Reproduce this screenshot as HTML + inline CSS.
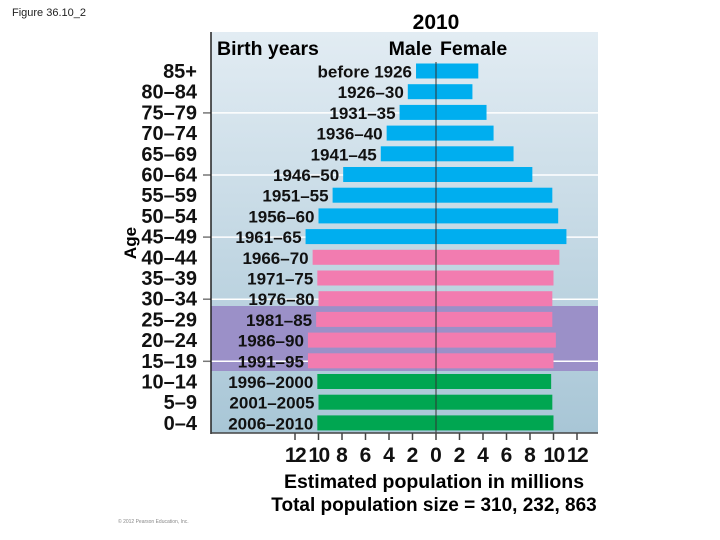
<!DOCTYPE html>
<html><head><meta charset="utf-8"><style>
html,body{margin:0;padding:0;background:#fff;}
svg{display:block;font-family:"Liberation Sans",Arial,sans-serif;}
</style></head><body>
<svg id="chart" width="720" height="540" viewBox="0 0 720 540">
<defs>
<linearGradient id="bg" x1="0" y1="0" x2="0" y2="1">
<stop offset="0" stop-color="#e2ecf3"/><stop offset="1" stop-color="#a8c6d6"/>
</linearGradient>
</defs>
<text x="12" y="16" font-size="11" fill="#222">Figure 36.10_2</text>
<rect x="211" y="32" width="387" height="401" fill="url(#bg)"/>
<rect x="211" y="306" width="387" height="65" fill="#9b90c8"/>
<g id="grid"></g>
<g id="bars"></g>
<g id="labels"></g>
<line x1="211" y1="32" x2="211" y2="434" stroke="#222" stroke-width="1.5"/>
<line x1="211" y1="433" x2="598" y2="433" stroke="#444" stroke-width="1.5"/>
<text x="436" y="29" font-size="21" font-weight="bold" text-anchor="middle">2010</text>
<text x="217" y="55" font-size="19.5" font-weight="bold">Birth years</text>
<text x="432" y="55" font-size="19.5" font-weight="bold" text-anchor="end">Male</text>
<text x="440" y="55" font-size="19.5" font-weight="bold">Female</text>
<text transform="translate(136,243) rotate(-90)" font-size="17" font-weight="bold" text-anchor="middle">Age</text>
<text x="434" y="488" font-size="19.5" font-weight="bold" text-anchor="middle">Estimated population in millions</text>
<text x="434" y="511" font-size="19" font-weight="bold" text-anchor="middle">Total population size = 310, 232, 863</text>
<text x="118" y="523" font-size="5" fill="#888">© 2012 Pearson Education, Inc.</text>
</svg>
<script>
const ages = ["85+","80–84","75–79","70–74","65–69","60–64","55–59","50–54","45–49","40–44","35–39","30–34","25–29","20–24","15–19","10–14","5–9","0–4"];
const birthYears = ["before 1926","1926–30","1931–35","1936–40","1941–45","1946–50","1951–55","1956–60","1961–65","1966–70","1971–75","1976–80","1981–85","1986–90","1991–95","1996–2000","2001–2005","2006–2010"];
const male = [1.7,2.4,3.1,4.2,4.7,7.9,8.8,10.0,11.1,10.5,10.1,10.0,10.2,10.9,10.9,10.1,10.0,10.1];
const female = [3.6,3.1,4.3,4.9,6.6,8.2,9.9,10.4,11.1,10.5,10.0,9.9,9.9,10.2,10.0,9.8,9.9,10.0];
const generation = ["b","b","b","b","b","b","b","b","b","p","p","p","p","p","p","g","g","g"];
const xTicks = [12,10,8,6,4,2,0,2,4,6,8,10,12];
const xTickSigns = [-1,-1,-1,-1,-1,-1,0,1,1,1,1,1,1];

const NS="http://www.w3.org/2000/svg";
const x0=436, pxPer=11.75;
function xScale(v){return x0+v*pxPer;}
function yRow(i){return 71+i*20.7;}
const colors={b:"#00aeef",p:"#f27cb0",g:"#00a651"};
function mk(tag,attrs,parent){const e=document.createElementNS(NS,tag);for(const k in attrs)e.setAttribute(k,attrs[k]);parent.appendChild(e);return e;}
const grid=document.getElementById('grid'),bars=document.getElementById('bars'),labels=document.getElementById('labels'),svg=document.getElementById('chart');

[2,5,8,11,14].forEach(i=>{
  const y=yRow(i)+0.5;
  const g=mk('line',{x1:211,x2:598,y1:y,y2:y,stroke:'#ffffff','stroke-width':1.5},grid);
  
  
  const t=mk('line',{x1:203,x2:211,y1:y,y2:y,stroke:'#777','stroke-width':1.5},grid);
  
  
});

ages.forEach((a,i)=>{
  const y=yRow(i);
  const c=colors[generation[i]];
  const bm=mk('rect',{x:xScale(-male[i]),y:y-7.5,width:male[i]*pxPer,height:15,fill:c},bars);
  
  
  const bf=mk('rect',{x:x0,y:y-7.5,width:female[i]*pxPer,height:15,fill:c},bars);
  
  
  const at=mk('text',{x:197,y:y+7,'font-size':20,'font-weight':'bold','text-anchor':'end',fill:'#111'},labels);
  at.textContent=a;
  
  
  const bt=mk('text',{x:xScale(-male[i])-4,y:y+6.5,'font-size':17,'font-weight':'bold','text-anchor':'end',fill:'#111'},labels);
  bt.textContent=birthYears[i];
  
  
});
const cl=mk('line',{x1:x0,x2:x0,y1:62,y2:433,stroke:'#333','stroke-width':1},bars);



xTicks.forEach((v,i)=>{
  const x=xScale(v*xTickSigns[i]);
  const tk=mk('line',{x1:x,x2:x,y1:433,y2:440,stroke:'#444','stroke-width':1.5},svg);
  
  
  const t=mk('text',{x:x,y:462,'font-size':21,'font-weight':'bold','text-anchor':'middle',fill:'#111','letter-spacing':String(v).length>1?'-1.5':'0'},svg);
  t.textContent=v;
  
  
});
</script>
</body></html>
